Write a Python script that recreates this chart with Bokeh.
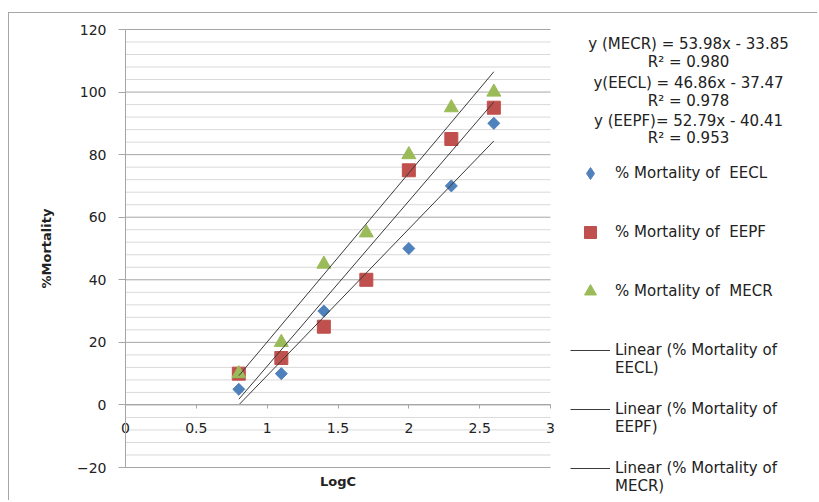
from bokeh.plotting import figure
from bokeh.models import (FixedTicker, Legend, LegendItem, Label, Range1d,
                          NumeralTickFormatter)
from bokeh.embed import file_html
from bokeh.resources import INLINE

# ---- data ----
logc = [0.8, 1.1, 1.4, 1.7, 2.0, 2.3, 2.6]
mort_eecl = [5, 10, 30, 40, 50, 70, 90]
mort_eepf = [10, 15, 25, 40, 75, 85, 95]
mort_mecr = [10, 20, 45, 55, 80, 95, 100]

series_names = ["EECL", "EEPF", "MECR"]
trend_slope = [46.86, 52.79, 53.98]
trend_intercept = [-37.47, -40.41, -33.85]

equation_lines = ["y (MECR) = 53.98x - 33.85", "R\u00b2 = 0.980",
                  "y(EECL) = 46.86x - 37.47", "R\u00b2 = 0.978",
                  "y (EEPF)= 52.79x - 40.41", "R\u00b2 = 0.953"]

x_ticks = [0, 0.5, 1, 1.5, 2, 2.5, 3]
y_ticks = [-20, 0, 20, 40, 60, 80, 100, 120]
y_minor_step = 4

FONT = "DejaVu Sans"
GRID_MAJOR = "#a6a6a6"
GRID_MINOR = "#d9d9d9"
TXT = "#222222"
C_EECL, C_EEPF, C_MECR = "#4f81bd", "#c0504d", "#9bbb59"

# ---- layout (pixels of the page) ----
W, H = 809, 488
ORG_X, ORG_Y = 9, 13            # page position of the canvas
BOT = ORG_Y + H
PX0, PX1 = 125, 550             # page x of x = 0 and x = 3
PY_TOP, PY_BOT = 29, 467        # page y of y = 120 and y = -20
xs = (PX1 - PX0) / (x_ticks[-1] - x_ticks[0])
ys = (PY_BOT - PY_TOP) / (y_ticks[-1] - y_ticks[0])
x_start = x_ticks[0] - (PX0 - ORG_X) / xs
x_end = x_ticks[0] + (ORG_X + W - PX0) / xs
y_end = y_ticks[-1] + (PY_TOP - ORG_Y) / ys
y_start = y_ticks[-1] - (BOT - PY_TOP) / ys

p = figure(width=W, height=H, x_range=Range1d(x_start, x_end), y_range=Range1d(y_start, y_end),
           output_backend="svg", toolbar_location=None, min_border=0,
           outline_line_color=None,
           styles={"border-top": "1px solid #a6a6a6", "border-left": "1px solid #a6a6a6",
                   "margin-top": "12px", "margin-left": "8px"})
p.xgrid.grid_line_color = None
p.ygrid.grid_line_color = None

# horizontal gridlines limited to the plot area
minor_vals = [v for v in range(y_ticks[0], y_ticks[-1] + 1, y_minor_step) if v not in y_ticks]
p.segment(x0=[x_ticks[0]] * len(minor_vals), x1=[x_ticks[-1]] * len(minor_vals),
          y0=minor_vals, y1=minor_vals, line_color=GRID_MINOR, line_width=1)
p.segment(x0=[x_ticks[0]] * len(y_ticks), x1=[x_ticks[-1]] * len(y_ticks),
          y0=y_ticks, y1=y_ticks, line_color=GRID_MAJOR, line_width=1)

# y axis at x = 0
yax = p.yaxis[0]
yax.fixed_location = 0
yax.bounds = (y_ticks[0], y_ticks[-1])
yax.ticker = FixedTicker(ticks=y_ticks)
yax.minor_tick_line_color = None
yax.major_tick_out = 7
yax.major_tick_in = 0
yax.axis_line_color = GRID_MAJOR
yax.major_tick_line_color = GRID_MAJOR
yax.major_label_standoff = 12
yax.major_label_text_font = FONT
yax.major_label_text_font_size = "14px"
yax.major_label_text_color = TXT
yax.axis_label = "%Mortality"
yax.axis_label_text_font = FONT
yax.axis_label_text_font_style = "bold"
yax.axis_label_text_font_size = "13px"
yax.axis_label_text_color = TXT
yax.axis_label_standoff = 20

# x axis crossing at y = 0
xax = p.xaxis[0]
xax.fixed_location = 0
xax.bounds = (x_ticks[0], x_ticks[-1])
xax.ticker = FixedTicker(ticks=x_ticks)
xax.formatter = NumeralTickFormatter(format="0.[0]")
xax.minor_tick_line_color = None
xax.major_tick_out = 4
xax.major_tick_in = 0
xax.axis_line_color = GRID_MAJOR
xax.major_tick_line_color = GRID_MAJOR
xax.major_label_standoff = 14
xax.major_label_text_font = FONT
xax.major_label_text_font_size = "14px"
xax.major_label_text_color = TXT
xax.axis_label = "LogC"
xax.axis_label_text_font = FONT
xax.axis_label_text_font_style = "bold"
xax.axis_label_text_font_size = "13px"
xax.axis_label_text_color = TXT
xax.axis_label_standoff = 38

# points (EECL: diamond shape for the legend, drawn as a square turned 45 deg on the chart)
r_eecl_leg = p.scatter(logc, mort_eecl, marker="diamond", size=10,
                       fill_color=C_EECL, line_color=C_EECL)
p.scatter(logc, mort_eecl, marker="square", angle=0.785398, size=8.5,
          fill_color=C_EECL, line_color=C_EECL)
r_eepf = p.scatter(logc, mort_eepf, marker="square", size=13,
                   fill_color=C_EEPF, line_color=C_EEPF)
r_mecr = p.scatter(logc, mort_mecr, marker="triangle", size=14,
                   fill_color=C_MECR, line_color=C_MECR)

# linear trendlines over the data range
x_lo, x_hi = min(logc), max(logc)
trend_renderers = []
for m, b in zip(trend_slope, trend_intercept):
    r = p.line([x_lo, x_hi], [m * x_lo + b, m * x_hi + b], line_color="#3a3a3a", line_width=1)
    trend_renderers.append(r)

legend_common = dict(border_line_color=None, background_fill_alpha=0, padding=0, margin=0,
                     glyph_width=40, label_standoff=5, label_text_font=FONT,
                     label_text_font_size="15px", label_text_color=TXT)
pitch = 59

# marker entries: first entry centred at page y = 173
mk_items = [
    LegendItem(label="% Mortality of  EECL", renderers=[r_eecl_leg]),
    LegendItem(label="% Mortality of  EEPF", renderers=[r_eepf]),
    LegendItem(label="% Mortality of  MECR", renderers=[r_mecr]),
]
mk_h = 30
mk_top = 173 - mk_h / 2
mk_total = 3 * mk_h + 2 * (pitch - mk_h)
legend_mk = Legend(items=mk_items, location=(570 - ORG_X, BOT - (mk_top + mk_total)),
                   spacing=pitch - mk_h, glyph_height=mk_h, label_height=mk_h, **legend_common)
p.add_layout(legend_mk)

# trendline entries: line sample level with the first label line (page y = 350);
# a leading blank line keeps the two text lines at and below the sample
ln_items = [LegendItem(label=f"\nLinear (% Mortality of\n{name})", renderers=[r])
            for name, r in zip(series_names, trend_renderers)]
ln_h = 56
ln_top = 350 - ln_h / 2
ln_total = 3 * ln_h + 2 * (pitch - ln_h)
legend_ln = Legend(items=ln_items, location=(570 - ORG_X, BOT - (ln_top + ln_total)),
                   spacing=pitch - ln_h, glyph_height=ln_h, label_height=ln_h, **legend_common)
p.add_layout(legend_ln)

eq_page_y = [43, 61, 82, 100, 120, 137]
for txt, py in zip(equation_lines, eq_page_y):
    p.add_layout(Label(x=688 - ORG_X, y=BOT - py, x_units="screen", y_units="screen",
                       text=txt, text_align="center", text_baseline="middle", text_font=FONT,
                       text_font_size="15px", text_color=TXT))

open("out.html", "w").write(file_html(p, INLINE))
